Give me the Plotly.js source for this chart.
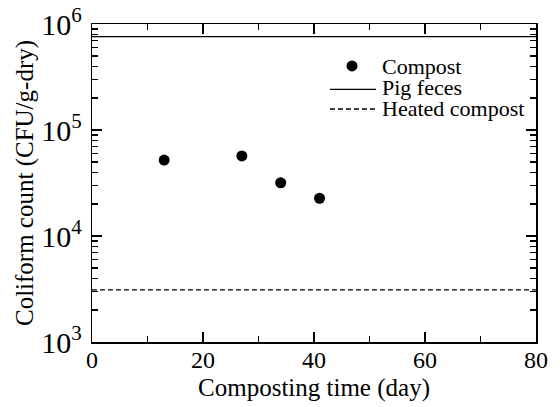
<!DOCTYPE html>
<html>
<head>
<meta charset="utf-8">
<script src="https://cdn.plot.ly/plotly-3.0.1.min.js"></script>
<style>html,body{margin:0;padding:0;background:#fff;}#chart{width:560px;height:407px;}</style>
</head>
<body>
<div id="chart"></div>
<script>
// Data
const compostDays = [13, 27, 34, 41];
const compostCounts = [52000, 57000, 31800, 22700];
const pigFecesDays = [0, 80];
const pigFecesCounts = [760000, 760000];
const heatedDays = [0, 80];
const heatedCounts = [3100, 3100];
const legendLabels = ["Compost", "Pig feces", "Heated compost"];
const xMinorTicks = [10, 30, 50, 70];
const yMinorTicks = [2000, 3000, 4000, 5000, 6000, 7000, 8000, 9000,
                     20000, 30000, 40000, 50000, 60000, 70000, 80000, 90000,
                     200000, 300000, 400000, 500000, 600000, 700000, 800000, 900000];

const FONT = 'Liberation Serif, Times New Roman, serif';

const traces = [
  {x: compostDays, y: compostCounts, type: 'scatter', mode: 'markers', name: legendLabels[0],
   marker: {color: '#000', size: 11}, showlegend: false, cliponaxis: false},
  {x: pigFecesDays, y: pigFecesCounts, type: 'scatter', mode: 'lines', name: legendLabels[1],
   line: {color: '#000', width: 1.3}, showlegend: false},
  {x: heatedDays, y: heatedCounts, type: 'scatter', mode: 'lines', name: legendLabels[2],
   line: {color: '#000', width: 1.3, dash: '5px,3px'}, showlegend: false},
  {x: [], y: [], xaxis: 'x2', yaxis: 'y2', type: 'scatter', mode: 'markers', showlegend: false, hoverinfo: 'skip'}
];

const axisCommon = {
  showgrid: false, zeroline: false, showline: true, linecolor: '#000', linewidth: 1.5,
  mirror: 'ticks', ticks: 'inside', tickcolor: '#000', tickwidth: 1.3,
  tickfont: {family: FONT, size: 24, color: '#000'}
};

const layout = {
  width: 560, height: 407,
  margin: {l: 92, r: 24, t: 24, b: 65},
  paper_bgcolor: '#fff', plot_bgcolor: '#fff',
  font: {family: FONT, color: '#000'},
  xaxis: Object.assign({}, axisCommon, {
    range: [0, 80], tickmode: 'linear', tick0: 0, dtick: 20, ticklen: 10,
    ticklabelstandoff: -4,
    title: {text: 'Composting time (day)', font: {family: FONT, size: 25, color: '#000'}, standoff: 6}
  }),
  yaxis: Object.assign({}, axisCommon, {
    type: 'log', range: [3, 6], tickmode: 'linear', tick0: 0, dtick: 1, ticklen: 10,
    exponentformat: 'power', ticklabelstandoff: 4,
    title: {text: 'Coliform count (CFU/g-dry)', font: {family: FONT, size: 25, color: '#000'}, standoff: 0}
  }),
  xaxis2: {overlaying: 'x', anchor: 'y', range: [0, 80], tickmode: 'array', tickvals: xMinorTicks,
    showticklabels: false, ticks: 'inside', ticklen: 6, tickwidth: 1.3, tickcolor: '#000',
    mirror: 'ticks', showline: true, linecolor: '#000', linewidth: 1.5, showgrid: false, zeroline: false},
  yaxis2: {overlaying: 'y', anchor: 'x', type: 'log', range: [3, 6], tickmode: 'array', tickvals: yMinorTicks,
    showticklabels: false, ticks: 'inside', ticklen: 6, tickwidth: 1.3, tickcolor: '#000',
    mirror: 'ticks', showline: true, linecolor: '#000', linewidth: 1.5, showgrid: false, zeroline: false},
  shapes: [
    {type: 'circle', xref: 'paper', yref: 'paper', xsizemode: 'pixel', ysizemode: 'pixel',
     xanchor: 0.5856, yanchor: 0.868, x0: -5.5, x1: 5.5, y0: -5.5, y1: 5.5,
     fillcolor: '#000', line: {width: 0}},
    {type: 'line', xref: 'paper', yref: 'paper', x0: 0.536, x1: 0.6396, y0: 0.7947, y1: 0.7947,
     line: {color: '#000', width: 1.3}},
    {type: 'line', xref: 'paper', yref: 'paper', x0: 0.536, x1: 0.6396, y0: 0.7327, y1: 0.7327,
     line: {color: '#000', width: 1.3, dash: '5px,3px'}}
  ],
  annotations: [
    {xref: 'paper', yref: 'paper', x: 0.6486, y: 0.866, xanchor: 'left', yanchor: 'middle', showarrow: false,
     text: legendLabels[0], font: {family: FONT, size: 22, color: '#000'}},
    {xref: 'paper', yref: 'paper', x: 0.6486, y: 0.800, xanchor: 'left', yanchor: 'middle', showarrow: false,
     text: legendLabels[1], font: {family: FONT, size: 22, color: '#000'}},
    {xref: 'paper', yref: 'paper', x: 0.6486, y: 0.733, xanchor: 'left', yanchor: 'middle', showarrow: false,
     text: legendLabels[2], font: {family: FONT, size: 22, color: '#000'}}
  ]
};

Plotly.newPlot('chart', traces, layout, {displayModeBar: false, staticPlot: true});
</script>
</body>
</html>
